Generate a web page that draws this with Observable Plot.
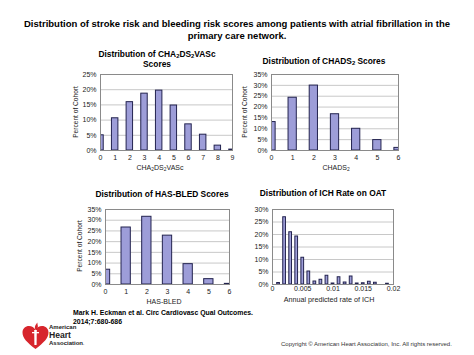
<!DOCTYPE html>
<html>
<head>
<meta charset="utf-8">
<script src="https://cdn.jsdelivr.net/npm/d3@7"></script>
<script src="https://cdn.jsdelivr.net/npm/@observablehq/plot@0.6"></script>
<style>
  html, body { margin: 0; padding: 0; background: #fff; }
  #page { position: relative; width: 474px; height: 355px; overflow: hidden; background: #fff;
          font-family: Arial, "Liberation Sans", sans-serif; color: #000; }
  .t { position: absolute; white-space: nowrap; transform: translate(-50%, -50%); line-height: 1; }
  .bold { font-weight: bold; }
  .chart { position: absolute; }
  .rot { transform: translate(-50%, -50%) rotate(-90deg); }
  sub { font-size: 70%; vertical-align: -0.25em; line-height: 0; }
</style>
</head>
<body>
<div id="page"></div>
<script>
// ---- data ----
const chaScores = [0, 1, 2, 3, 4, 5, 6, 7, 8, 9];
const chaPct = [5.0, 10.6, 15.9, 18.7, 19.7, 14.8, 8.6, 5.2, 1.6, 0.3];

const chadsScores = [0, 1, 2, 3, 4, 5, 6];
const chadsPct = [13.1, 24.3, 29.9, 16.7, 10.0, 4.8, 1.2];

const hasbledScores = [0, 1, 2, 3, 4, 5, 6];
const hasbledPct = [6.9, 26.6, 31.6, 22.8, 9.5, 2.5, 0.3];

const ichRate = [0.001, 0.002, 0.003, 0.004, 0.005, 0.006, 0.007, 0.008, 0.009, 0.010,
                 0.011, 0.012, 0.013, 0.014, 0.015, 0.016, 0.017, 0.019];
const ichPct = [0.6, 26.9, 20.9, 19.2, 10.7, 5.2, 1.2, 1.9, 3.5, 0.4,
                2.9, 0.8, 3.2, 0.4, 0.5, 1.1, 0.7, 0.3];

const chaYTicks = [0, 5, 10, 15, 20, 25];
const chadsYTicks = [0, 5, 10, 15, 20, 25, 30, 35];
const hasbledYTicks = [0, 5, 10, 15, 20, 25, 30, 35];
const ichYTicks = [0, 5, 10, 15, 20, 25, 30];
const ichXTicks = [0, 0.005, 0.01, 0.015, 0.02];

// ---- styling ----
const barFill = "#9d9dd8";
const barStroke = "#23234f";
const gridColor = "#c8c8c8";
const frameColor = "#8a8a8a";

const page = document.getElementById("page");

function addText(html, x, y, size, cls = "", extra = "") {
  const d = document.createElement("div");
  d.className = "t " + cls;
  d.style.left = x + "px";
  d.style.top = y + "px";
  d.style.fontSize = size + "px";
  if (extra) d.style.cssText += extra;
  d.innerHTML = html;
  page.appendChild(d);
  return d;
}

function histPanel({xs, ys, xDomain, xTicks, xFormat, yTicks, barW, left, top, width, height, margins, clip, xPad = 5}) {
  const data = xs.map((x, i) => ({x, p: ys[i]}));
  const yMax = yTicks[yTicks.length - 1];
  const chart = Plot.plot({
    width, height,
    marginLeft: margins[3], marginRight: margins[1], marginTop: margins[0], marginBottom: margins[2],
    style: {fontFamily: "Arial, 'Liberation Sans', sans-serif", fontSize: "7px", background: "transparent", color: "#222"},
    x: {domain: xDomain, ticks: xTicks, tickSize: 0, tickPadding: xPad, tickFormat: xFormat, label: null},
    y: {domain: [0, yMax], ticks: yTicks, tickSize: 0, tickPadding: 4, tickFormat: d => d + "%", label: null},
    marks: [
      Plot.ruleY(yTicks.filter(t => t > 0), {stroke: gridColor, strokeWidth: 1}),
      Plot.rectY(data, {x1: d => d.x - barW / 2, x2: d => d.x + barW / 2, y1: 0, y2: "p",
                        fill: barFill, stroke: barStroke, strokeWidth: 1, clip}),
      Plot.frame({stroke: frameColor, strokeWidth: 1})
    ]
  });
  chart.classList.add("chart");
  chart.style.left = left + "px";
  chart.style.top = top + "px";
  page.appendChild(chart);
}

// Main title
addText("Distribution of stroke risk and bleeding risk scores among patients with atrial fibrillation in the", 237, 24, 9.5, "bold");
addText("primary care network.", 237, 36, 9.5, "bold");

// Panel 1: CHA2DS2VASc
addText("Distribution of CHA<sub>2</sub>DS<sub>2</sub>VASc", 157, 54, 8.4, "bold");
addText("Scores", 157, 63.5, 8.4, "bold");
histPanel({xs: chaScores, ys: chaPct, xDomain: [0, 9], xTicks: chaScores, xFormat: d => d,
  yTicks: chaYTicks, barW: 0.44, left: 60, top: 65, width: 185, height: 100,
  margins: [9, 13, 15, 40], clip: true});
addText("Percent of Cohort", 76, 112, 6.6, "rot", "color:#222");
addText("CHA<sub>2</sub>DS<sub>2</sub>VASc", 160, 167, 7, "", "color:#222");

// Panel 2: CHADS2
addText("Distribution of CHADS<sub>2</sub> Scores", 324, 61, 8.4, "bold");
histPanel({xs: chadsScores, ys: chadsPct, xDomain: [0, 6], xTicks: chadsScores, xFormat: d => d,
  yTicks: chadsYTicks, barW: 0.39, left: 215, top: 65, width: 190, height: 100,
  margins: [9, 7, 15, 56], clip: true});
addText("Percent of Cohort", 245, 112, 6.6, "rot", "color:#222");
addText("CHADS<sub>2</sub>", 336, 167, 7, "", "color:#222");

// Panel 3: HAS-BLED
addText("Distribution of HAS-BLED Scores", 162, 194, 8.4, "bold");
histPanel({xs: hasbledScores, ys: hasbledPct, xDomain: [0, 6], xTicks: hasbledScores, xFormat: d => d,
  yTicks: hasbledYTicks, barW: 0.45, left: 60, top: 200, width: 175, height: 100,
  margins: [9, 6, 16, 45], clip: true});
addText("Percent of Cohort", 80, 246, 6.6, "rot", "color:#222");
addText("HAS-BLED", 164, 301, 7, "", "color:#222");

// Panel 4: ICH
addText("Distribution of ICH Rate on OAT", 323, 193, 8.4, "bold");
histPanel({xs: ichRate, ys: ichPct, xDomain: [0, 0.02], xTicks: ichXTicks, xFormat: d => String(d),
  yTicks: ichYTicks, barW: 0.00045, left: 215, top: 200, width: 190, height: 100,
  margins: [9, 12, 16, 57], clip: false, xPad: 2});
addText("Annual predicted rate of ICH", 329, 299.5, 7.2, "", "color:#222");

// Footer
const cite = document.createElement("div");
cite.style.cssText = "position:absolute;left:73px;top:309px;font-size:6.9px;font-weight:bold;line-height:8.5px;white-space:nowrap;";
cite.innerHTML = "Mark H. Eckman et al. Circ Cardiovasc Qual Outcomes.<br>2014;7:680-686";
page.appendChild(cite);

const copy = document.createElement("div");
copy.style.cssText = "position:absolute;left:281px;top:341px;font-size:6px;color:#333;white-space:nowrap;";
copy.textContent = "Copyright \u00a9 American Heart Association, Inc. All rights reserved.";
page.appendChild(copy);

// AHA logo
const logo = document.createElement("div");
logo.style.cssText = "position:absolute;left:21px;top:321px;width:80px;height:30px;";
logo.innerHTML = `
<svg width="30" height="30" viewBox="0 0 30 30" style="position:absolute;left:0;top:0">
  <path d="M14.5,28 C6,21.5 1.5,17 1.5,11.5 C1.5,7.5 4.5,5 8,5 C10.8,5 13,6.6 14.5,8.8 C16,6.6 18.2,5 21,5 C24.5,5 27.5,7.5 27.5,11.5 C27.5,17 23,21.5 14.5,28Z" fill="#d7252c"/>
  <path d="M13.2,9 L15.8,9 L15.6,24 L13.4,24Z" fill="#fff"/>
  <path d="M11,11 L18,11 L18,12.3 L11,12.3Z" fill="#fff"/>
  <path d="M14.5,8.5 C13,6.5 14.5,3.5 16.5,1.5 C16,3.5 18,5 16,8.5Z" fill="#d7252c"/>
</svg>
<div style="position:absolute;left:28px;top:3px;font-size:6px;line-height:6.5px;font-weight:bold;color:#222">American</div>
<div style="position:absolute;left:28px;top:9.5px;font-size:8.6px;line-height:9px;font-weight:bold;color:#222">Heart</div>
<div style="position:absolute;left:28px;top:19px;font-size:6px;line-height:6.5px;font-weight:bold;color:#222">Association<span style="font-size:4px">.</span></div>
`;
page.appendChild(logo);
</script>
</body>
</html>
